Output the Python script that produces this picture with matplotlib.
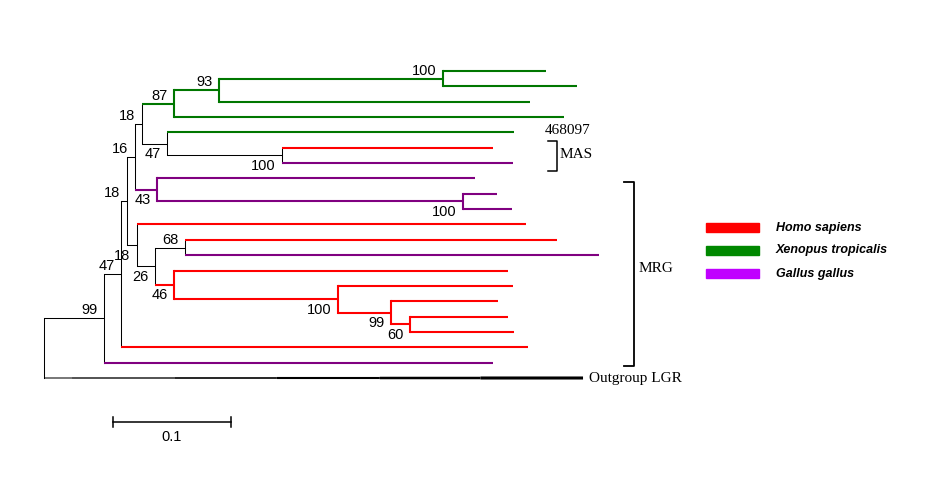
import matplotlib
matplotlib.use("Agg")
import matplotlib.pyplot as plt
from matplotlib.patches import Rectangle

# leaves, top to bottom: distance from root and species
leaf_depth = [0.4254, 0.4517, 0.4119, 0.4407, 0.3983, 0.3805, 0.3975,
              0.3653, 0.3839, 0.3966, 0.4085, 0.4347, 0.4703, 0.3932,
              0.3975, 0.3847, 0.3932, 0.3983, 0.4102, 0.3805, 0.4568]
leaf_species = ['X', 'X', 'X', 'X', 'X', 'H', 'G', 'G', 'G', 'G', 'H',
                'H', 'G', 'H', 'H', 'H', 'H', 'H', 'H', 'G', 'O']

# internal nodes (children before parents): name, children, depth, bootstrap, label side
node_name = ['A', 'B', 'C', 'D', 'E', 'F', 'G', 'H', 'I', 'J', 'K', 'L',
             'M', 'N', 'O', 'P', 'Q', 'R', 'S', 'root']
node_children = [[0, 1], ['A', 2], ['B', 3], [5, 6], [4, 'D'], ['C', 'E'],
                 [8, 9], [7, 'G'], ['F', 'H'], [11, 12], [16, 17], [15, 'K'],
                 [14, 'L'], [13, 'M'], ['J', 'N'], [10, 'O'], ['I', 'P'],
                 ['Q', 18], ['R', 19], ['S', 20]]
node_depth = [0.3381, 0.1483, 0.1102, 0.2017, 0.1042, 0.0831, 0.3551, 0.0958,
              0.0771, 0.1195, 0.3102, 0.2941, 0.2492, 0.1102, 0.0941, 0.0788,
              0.0703, 0.0653, 0.0508, 0.0]
node_boot = [100, 93, 87, 100, 47, 18, 100, 43, 16, 68, 60, 99, 100, 46, 26,
             18, 18, 47, 99, None]
node_side = ['up', 'up', 'up', 'down', 'down', 'up', 'down', 'down', 'up', 'up',
             'down', 'down', 'down', 'down', 'down', 'down', 'up', 'up', 'up', None]

species_names = ['Homo sapiens', 'Xenopus tropicalis', 'Gallus gallus']
legend_colors = ['#ff0000', '#008800', '#c000ff']
branch_colors = {'H': '#ff0000', 'X': '#007700', 'G': '#800080', 'O': 'black'}

# pixel geometry of the original layout
PX_UNIT = 1180.0   # pixels per unit of distance
ROOT_PX = 44
TOP_PX = 71
ROW_PX = 15.35
W, H = 929, 493

fig = plt.figure(figsize=(W / 100, H / 100), dpi=100)
ax = fig.add_axes([0, 0, 1, 1])
ax.set_xlim(-ROOT_PX / PX_UNIT, (W - ROOT_PX) / PX_UNIT)
ax.set_ylim((H - TOP_PX) / ROW_PX, -TOP_PX / ROW_PX)
ax.axis('off')

# resolve positions and colours
pos = {}
col = {}
for i, d in enumerate(leaf_depth):
    pos[i] = (d, i)
    col[i] = leaf_species[i]
for name, kids, d in zip(node_name, node_children, node_depth):
    ys = [pos[k][1] for k in kids]
    pos[name] = (d, sum(ys) / len(ys))
    cs = set(col[k] for k in kids)
    col[name] = cs.pop() if len(cs) == 1 else 'O'


def lw_of(c):
    return 0.75 if c == 'O' else 1.5


for name, kids in zip(node_name, node_children):
    x, y = pos[name]
    ys = [pos[k][1] for k in kids]
    ax.plot([x, x], [min(ys), max(ys)], color=branch_colors[col[name]],
            lw=lw_of(col[name]), solid_capstyle='projecting')
    for k in kids:
        kx, ky = pos[k]
        if k == 20:
            # outgroup: stepwise thickening line
            widths = [0.75, 0.95, 1.2, 1.5, 1.8, 2.2]
            fr = [0, 0.052, 0.243, 0.432, 0.623, 0.81, 1.0]
            for j, w in enumerate(widths):
                ax.plot([x + (kx - x) * fr[j], x + (kx - x) * fr[j + 1]], [ky, ky],
                        color='black', lw=w, solid_capstyle='butt', snap=False)
            continue
        ax.plot([x, kx], [ky, ky], color=branch_colors[col[k]], lw=lw_of(col[k]),
                solid_capstyle='butt')

# bootstrap values
for name, b, side in zip(node_name, node_boot, node_side):
    if b is None:
        continue
    x, y = pos[name]
    dy = -8 / ROW_PX if side == 'up' else 10.5 / ROW_PX
    ax.text(x - 6.5 / PX_UNIT, y + dy, str(b), ha='right', va='center',
            fontsize=10.5, family='Liberation Sans')


def px_x(p):
    return (p - ROOT_PX) / PX_UNIT


def px_y(p):
    return (p - TOP_PX) / ROW_PX


serif = dict(family='Liberation Serif', fontsize=11, va='center')

# MAS bracket
ax.plot([px_x(548), px_x(557), px_x(557), px_x(548)],
        [px_y(141), px_y(141), px_y(171), px_y(171)], color='black', lw=1.1)
ax.text(px_x(545), px_y(131), '468097', ha='left', **serif)
ax.text(px_x(560), px_y(155), 'MAS', ha='left', **serif)

# MRG bracket
ax.plot([px_x(624), px_x(634), px_x(634), px_x(624)],
        [px_y(182), px_y(182), px_y(366), px_y(366)], color='black', lw=1.3)
ax.text(px_x(639), px_y(269), 'MRG', ha='left', **serif)
ax.text(px_x(589), px_y(379), 'Outgroup LGR', ha='left', **serif)

# scale bar
sx0 = px_x(113)
sy = px_y(422)
ax.plot([sx0, sx0 + 0.1], [sy, sy], color='black', lw=1.1)
for sx in (sx0, sx0 + 0.1):
    ax.plot([sx, sx], [sy - 5 / ROW_PX, sy + 5 / ROW_PX], color='black', lw=1.1)
ax.text(sx0 + 0.05, px_y(437), '0.1', ha='center', va='center',
        fontsize=10.5, family='Liberation Sans')

# legend
for i, (lab, c) in enumerate(zip(species_names, legend_colors)):
    top = 223 + i * 23
    fig.patches.append(Rectangle((706 / W, 1 - (top + 9) / H), 53 / W, 9 / H,
                                 transform=fig.transFigure, color=c))
    fig.text(776 / W, 1 - (top + 4.5) / H, lab, ha='left', va='center',
             fontsize=9, style='italic', weight='bold', family='Liberation Sans')

fig.savefig('out.png', dpi=100)
